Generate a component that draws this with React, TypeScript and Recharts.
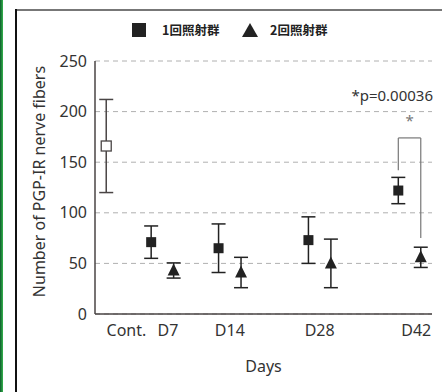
import React from "react";
import {
  CartesianGrid,
  ComposedChart,
  ErrorBar,
  ReferenceDot,
  ReferenceLine,
  Scatter,
  XAxis,
  YAxis,
} from "recharts";

// x-axis: day groups, their slot on the x scale, and where each label sits
const DAYS = ["Cont.", "D7", "D14", "D28", "D42"];
const DAY_SLOT = [0.5, 3, 6, 10, 14];
const LABEL_SLOT = [1.4, 3.25, 6, 10, 14.3];
const Y_TICKS = [0, 50, 100, 150, 200, 250];

// 1回照射群 (Cont. is the control value)
const G1_MEAN = [166, 71, 65, 73, 122];
const G1_SD = [46, 16, 24, 23, 13];
// 2回照射群
const G2_MEAN = [null, 43, 41, 50, 56];
const G2_SD = [null, 7.5, 15, 24, 10];

const SIG_TEXT = "*p=0.00036";
const BRACKET_TOP = 174;
const BRACKET_LEFT_END = 142;
const BRACKET_RIGHT_END = 75;

const PAIR_SHIFT = 0.5;
const INK = "#222";
const AXIS = "#4a4545";
const GRID = "#b0b0b0";

const controlData = [{ x: DAY_SLOT[0], y: G1_MEAN[0], err: G1_SD[0] }];
const g1Data = DAYS.slice(1).map((_, i) => ({
  x: DAY_SLOT[i + 1] - PAIR_SHIFT,
  y: G1_MEAN[i + 1],
  err: G1_SD[i + 1],
}));
const g2Data = DAYS.slice(1).map((_, i) => ({
  x: DAY_SLOT[i + 1] + PAIR_SHIFT,
  y: G2_MEAN[i + 1] as number,
  err: G2_SD[i + 1] as number,
}));

const FilledSquare = (p: any) => (
  <rect x={p.cx - 5} y={p.cy - 5} width={10} height={10} fill={INK} />
);
const OpenSquare = (p: any) => (
  <rect x={p.cx - 5} y={p.cy - 5} width={10} height={10} fill="#fff" stroke={AXIS} strokeWidth={1.3} />
);
const Triangle = (p: any) => (
  <polygon
    points={`${p.cx},${p.cy - 7} ${p.cx - 6},${p.cy + 5} ${p.cx + 6},${p.cy + 5}`}
    fill={INK}
  />
);

function Legend() {
  const txt: React.CSSProperties = {
    position: "absolute",
    top: 22,
    fontFamily: '"Noto Sans CJK JP", sans-serif',
    fontWeight: 700,
    fontSize: 12.5,
    color: INK,
    lineHeight: "16px",
  };
  return (
    <>
      <div style={{ position: "absolute", left: 132, top: 23, width: 14, height: 14, background: INK }} />
      <div style={{ ...txt, left: 162 }}>1回照射群</div>
      <svg style={{ position: "absolute", left: 242, top: 23 }} width={16} height={15}>
        <polygon points="8,0 0,14 16,14" fill={INK} />
      </svg>
      <div style={{ ...txt, left: 270 }}>2回照射群</div>
    </>
  );
}

export default function App() {
  return (
    <div
      style={{
        position: "absolute",
        left: 0,
        top: 0,
        width: 442,
        height: 392,
        background: "#fff",
        fontFamily: '"Noto Sans", sans-serif',
        overflow: "hidden",
      }}
    >
      <div style={{ position: "absolute", left: 0, top: 0, width: 3, height: 392, background: "linear-gradient(to right, #0f5a2c, #34b54e)" }} />
      <div style={{ position: "absolute", left: 15, top: 9, width: 427, height: 1.5, background: "#777" }} />
      <div style={{ position: "absolute", left: 15, top: 9, width: 1.5, height: 383, background: "#111" }} />
      <Legend />
      <div style={{ position: "absolute", left: 0, top: 0 }}>
        <ComposedChart width={442} height={392} margin={{ top: 61, right: 10, bottom: 0, left: 0 }}>
          <CartesianGrid vertical={false} stroke={GRID} strokeDasharray="5 4" />
          <XAxis
            type="number"
            dataKey="x"
            domain={[0, 15]}
            ticks={LABEL_SLOT}
            interval={0}
            tickFormatter={(v) => DAYS[LABEL_SLOT.indexOf(v)]}
            height={78}
            axisLine={{ stroke: AXIS, strokeWidth: 1.5 }}
            tickLine={false}
            tickMargin={5}
            tick={{ fontSize: 16, fill: "#333" }}
            label={{ value: "Days", position: "insideBottom", offset: 20, fontSize: 16, fill: "#333" }}
          />
          <YAxis
            type="number"
            domain={[0, 250]}
            ticks={Y_TICKS}
            width={95}
            axisLine={{ stroke: AXIS, strokeWidth: 1.5 }}
            tickLine={false}
            tick={{ fontSize: 16, fill: "#333" }}
            label={{
              content: (props: any) => {
                const vb = props.viewBox;
                const cx = vb.x + 39;
                const cy = vb.y + vb.height / 2 - 6;
                return (
                  <text
                    x={cx}
                    y={cy}
                    transform={`rotate(-90 ${cx} ${cy})`}
                    textAnchor="middle"
                    dominantBaseline="central"
                    fontSize={16}
                    fill="#333"
                  >
                    Number of PGP-IR nerve fibers
                  </text>
                );
              },
            }}
          />
          <ReferenceLine
            segment={[{ x: 13.5, y: BRACKET_LEFT_END }, { x: 13.5, y: BRACKET_TOP }]}
            stroke="#777"
            strokeWidth={1.2}
          />
          <ReferenceLine
            segment={[{ x: 13.5, y: BRACKET_TOP }, { x: 14.5, y: BRACKET_TOP }]}
            stroke="#777"
            strokeWidth={1.2}
          />
          <ReferenceLine
            segment={[{ x: 14.5, y: BRACKET_TOP }, { x: 14.5, y: BRACKET_RIGHT_END }]}
            stroke="#777"
            strokeWidth={1.2}
          />
          <ReferenceDot
            x={14}
            y={196}
            r={0}
            stroke="none"
            label={{
              content: (props: any) => (
                <text x={props.viewBox.x} y={props.viewBox.y} textAnchor="middle" dy="0.7em" fontSize={15} fill="#777">
                  *
                </text>
              ),
            }}
          />
          <ReferenceDot
            x={15}
            y={216}
            r={0}
            stroke="none"
            label={{
              content: (props: any) => (
                <text x={props.viewBox.x + 1} y={props.viewBox.y} textAnchor="end" dy="0.35em" fontSize={15} fill="#333">
                  {SIG_TEXT}
                </text>
              ),
            }}
          />
          <Scatter data={controlData} dataKey="y" shape={OpenSquare} isAnimationActive={false}>
            <ErrorBar dataKey="err" direction="y" width={7} strokeWidth={1.5} stroke={AXIS} />
          </Scatter>
          <Scatter data={g1Data} dataKey="y" shape={FilledSquare} isAnimationActive={false}>
            <ErrorBar dataKey="err" direction="y" width={7} strokeWidth={1.5} stroke={INK} />
          </Scatter>
          <Scatter data={g2Data} dataKey="y" shape={Triangle} isAnimationActive={false}>
            <ErrorBar dataKey="err" direction="y" width={7} strokeWidth={1.5} stroke={INK} />
          </Scatter>
        </ComposedChart>
      </div>
    </div>
  );
}
